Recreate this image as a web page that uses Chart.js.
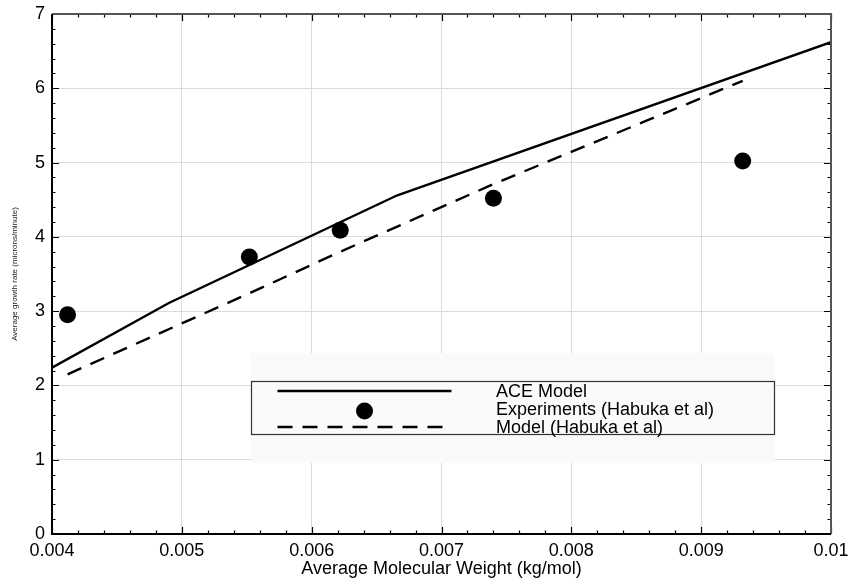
<!DOCTYPE html>
<html>
<head>
<meta charset="utf-8">
<script src="https://cdn.jsdelivr.net/npm/chart.js@4"></script>
<style>
  html, body { margin: 0; padding: 0; background: #fff; }
  #wrap { width: 849px; height: 584px; }
</style>
</head>
<body>
<div id="wrap"><canvas id="chart1" width="849" height="584"></canvas></div>
<script>
// ACE model curve
const aceMW = [0.004, 0.0049, 0.00666, 0.01];
const aceRate = [2.24, 3.11, 4.56, 6.62];
// experiments (Habuka et al)
const expMW = [0.00412, 0.00552, 0.00622, 0.0074, 0.00932];
const expRate = [2.95, 3.73, 4.09, 4.52, 5.02];
// model (Habuka et al)
const habMW = [0.00412, 0.00552, 0.00622, 0.0074, 0.00932];
const habRate = [2.15, 3.24, 3.80, 4.71, 6.10];

const xTitle = 'Average Molecular Weight (kg/mol)';
const yTitle = 'Average growth rate (microns/minute)';
const FONT = "'Liberation Sans', Arial, Helvetica, sans-serif";

function pts(xs, ys) {
    return xs.map((x, i) => ({ x: x, y: ys[i] }));
}

// inward ticks on all four sides + frame
const frameTicks = {
    id: 'frameTicks',
    afterDatasetsDraw(chart) {
        const ctx = chart.ctx;
        const a = chart.chartArea;
        const xs = chart.scales.x;
        const ys = chart.scales.y;
        ctx.save();
        ctx.strokeStyle = '#000';
        ctx.lineWidth = 1.2;
        ctx.beginPath();
        for (let i = 0; i <= 30; i++) {
            const v = xs.min + i * 0.0002;
            const px = Math.round(xs.getPixelForValue(v)) + 0.5;
            const len = (i % 5 == 0) ? 7 : 3.5;
            ctx.moveTo(px, a.bottom); ctx.lineTo(px, a.bottom - len);
            ctx.moveTo(px, a.top); ctx.lineTo(px, a.top + len);
        }
        for (let i = 0; i <= 35; i++) {
            const v = i * 0.2;
            const py = Math.round(ys.getPixelForValue(v)) + 0.5;
            const len = (i % 5 == 0) ? 7 : 3.5;
            ctx.moveTo(a.left, py); ctx.lineTo(a.left + len, py);
            ctx.moveTo(a.right, py); ctx.lineTo(a.right - len, py);
        }
        ctx.stroke();

        ctx.lineWidth = 2;
        ctx.strokeStyle = '#555';
        ctx.beginPath();
        ctx.moveTo(a.left, a.top); ctx.lineTo(a.right, a.top); ctx.lineTo(a.right, a.bottom);
        ctx.stroke();
        ctx.strokeStyle = '#000';
        ctx.beginPath();
        ctx.moveTo(a.left, a.top); ctx.lineTo(a.left, a.bottom); ctx.lineTo(a.right, a.bottom);
        ctx.stroke();
        ctx.restore();
    }
};

// boxed legend drawn inside the plot
const boxLegend = {
    id: 'boxLegend',
    afterDatasetsDraw(chart) {
        const ctx = chart.ctx;
        ctx.save();
        ctx.fillStyle = '#fafafa';
        ctx.fillRect(251, 353, 524, 110);
        ctx.strokeStyle = '#333';
        ctx.lineWidth = 1.2;
        ctx.strokeRect(251.5, 381.5, 523, 53);

        ctx.font = '18px ' + FONT;
        ctx.fillStyle = '#000';
        ctx.textBaseline = 'alphabetic';
        const rows = [397, 415, 433];
        chart.data.datasets.forEach((ds, i) => {
            const cy = rows[i] - 6;
            if (ds.showLine === false) {
                ctx.beginPath();
                ctx.arc(364.5, cy + 2, ds.pointRadius, 0, Math.PI * 2);
                ctx.fill();
            } else {
                ctx.save();
                ctx.strokeStyle = ds.borderColor;
                ctx.lineWidth = ds.borderWidth;
                ctx.setLineDash(ds.borderDash || []);
                ctx.beginPath();
                ctx.moveTo(277.5, cy);
                ctx.lineTo(i == 0 ? 451.5 : 447, cy);
                ctx.stroke();
                ctx.restore();
            }
            ctx.fillText(ds.label, 496, rows[i]);
        });
        ctx.restore();
    }
};

new Chart(document.getElementById('chart1'), {
    type: 'scatter',
    data: {
        datasets: [
            {
                label: 'ACE Model',
                data: pts(aceMW, aceRate),
                showLine: true,
                borderColor: '#000',
                borderWidth: 2.4,
                pointRadius: 0,
                tension: 0
            },
            {
                label: 'Experiments (Habuka et al)',
                data: pts(expMW, expRate),
                showLine: false,
                backgroundColor: '#000',
                borderColor: '#000',
                borderWidth: 0,
                pointRadius: 8.5
            },
            {
                label: 'Model (Habuka et al)',
                data: pts(habMW, habRate),
                showLine: true,
                borderColor: '#000',
                borderWidth: 2.4,
                borderDash: [15, 10],
                pointRadius: 0,
                tension: 0
            }
        ]
    },
    options: {
        responsive: false,
        animation: false,
        layout: { padding: { top: 14, right: 18, bottom: 0, left: 0 } },
        plugins: {
            legend: { display: false },
            tooltip: { enabled: false }
        },
        scales: {
            x: {
                type: 'linear',
                min: 0.004,
                max: 0.01,
                border: { display: false },
                grid: { color: '#dcdcdc', lineWidth: 1, drawTicks: false },
                ticks: {
                    stepSize: 0.001,
                    padding: 6,
                    color: '#000',
                    font: { family: FONT, size: 18 },
                    maxRotation: 0,
                    callback: v => String(+v.toFixed(3))
                },
                title: {
                    display: true,
                    text: xTitle,
                    color: '#000',
                    font: { family: FONT, size: 18 },
                    padding: { top: 0, bottom: 4 }
                },
                afterFit: s => {
                    s.height = 50;
                    s.paddingLeft = 0;
                    s.paddingRight = 0;
                }
            },
            y: {
                min: 0,
                max: 7,
                border: { display: false },
                grid: { color: '#dcdcdc', lineWidth: 1, drawTicks: false },
                ticks: {
                    stepSize: 1,
                    padding: 7,
                    color: '#000',
                    font: { family: FONT, size: 18 }
                },
                title: {
                    display: true,
                    text: yTitle,
                    color: '#222',
                    font: { family: FONT, size: 8 },
                    padding: { top: 10, bottom: 0 }
                },
                afterFit: s => {
                    s.width = 52;
                    s.paddingTop = 0;
                    s.paddingBottom = 0;
                }
            }
        }
    },
    plugins: [frameTicks, boxLegend]
});
</script>
</body>
</html>
